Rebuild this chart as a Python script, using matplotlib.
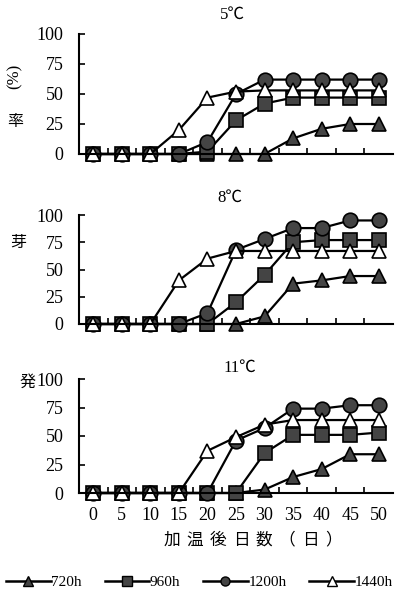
import matplotlib
matplotlib.use("Agg")
import matplotlib.pyplot as plt
from matplotlib.lines import Line2D

plt.rcParams['font.family'] = ['Liberation Serif', 'Noto Sans CJK JP']

# Days after warming
days = [0, 5, 10, 15, 20, 25, 30, 35, 40, 45, 50]
xtick_labels = [str(d) for d in days]
yticks = [0, 25, 50, 75, 100]

titles = ['5℃', '8℃', '11℃']
series_names = ['720h', '960h', '1200h', '1440h']
xlabel_chars = ['加', '温', '後', '日', '数', '（', '日', '）']

# germination rate (%) per panel, per chilling hours
g5_720 = [0, 0, 0, 0, 0, 0, 0, 13, 21, 25, 25]
g5_960 = [0, 0, 0, 0, 2, 28, 42, 47, 47, 47, 47]
g5_1200 = [0, 0, 0, 0, 10, 50, 62, 62, 62, 62, 62]
g5_1440 = [0, 0, 0, 20, 47, 52, 53, 53, 53, 53, 53]

g8_720 = [0, 0, 0, 0, 0, 0, 7, 37, 40, 44, 44]
g8_960 = [0, 0, 0, 0, 0, 20, 45, 75, 77, 77, 77]
g8_1200 = [0, 0, 0, 0, 10, 68, 78, 88, 88, 95, 95]
g8_1440 = [0, 0, 0, 40, 60, 67, 67, 67, 67, 67, 67]

g11_720 = [0, 0, 0, 0, 0, 0, 3, 14, 21, 34, 34]
g11_960 = [0, 0, 0, 0, 0, 0, 35, 51, 51, 51, 53]
g11_1200 = [0, 0, 0, 0, 0, 46, 57, 74, 74, 77, 77]
g11_1440 = [0, 0, 0, 0, 37, 49, 60, 64, 64, 64, 64]

panels = [
    [g5_720, g5_960, g5_1200, g5_1440],
    [g8_720, g8_960, g8_1200, g8_1440],
    [g11_720, g11_960, g11_1200, g11_1440],
]

styles = [
    dict(marker='^', mfc='#444444'),
    dict(marker='s', mfc='#444444'),
    dict(marker='o', mfc='#444444'),
    dict(marker='^', mfc='white'),
]

W, H = 395, 593
fig = plt.figure(figsize=(W / 100, H / 100), dpi=100)

def fy(px):
    return 1 - px / H

# (top px of y=100, bottom px of y=0)
boxes = [(34, 154), (215, 324), (379, 493)]
left_px, right_px = 79, 393
title_pos = [(232, 15), (230, 198), (240, 368)]

for i, (data, (top, bot)) in enumerate(zip(panels, boxes)):
    ax = fig.add_axes([left_px / W, fy(bot), (right_px - left_px) / W, (bot - top) / H])
    for vals, st in zip(data, styles):
        ax.plot(days, vals, color='black', lw=1.6, marker=st['marker'], mfc=st['mfc'],
                mec='black', mew=1.2, ms=10.5, clip_on=False)
    ax.set_xlim(-2.5, 52.5)
    ax.set_ylim(0, 100)
    ax.spines['top'].set_visible(False)
    ax.spines['right'].set_visible(False)
    ax.spines['left'].set_linewidth(1.5)
    ax.spines['bottom'].set_linewidth(1.5)
    ax.set_yticks(yticks)
    ax.set_yticklabels([str(t) for t in yticks], fontsize=13)
    ax.set_xticks([d + 2.5 for d in days[:-1]])
    ax.set_xticklabels([])
    ax.tick_params(axis='both', direction='in', length=4, width=1.2)
    ax.tick_params(axis='y', pad=11)
    ax.patch.set_visible(False)
    tx, ty = title_pos[i]
    fig.text(tx / W, fy(ty), titles[i], ha='center', va='center', fontsize=12)
    if i == 2:
        y_lab = -(515 - bot) * 100 / (bot - top)
        for d, lab in zip(days, xtick_labels):
            ax.text(d, y_lab, lab, ha='center', va='center', fontsize=13)

# x label, characters spread out
x0, x1 = 160, 345
step = (x1 - x0) / len(xlabel_chars)
for k, ch in enumerate(xlabel_chars):
    fig.text((x0 + step * (k + 0.5)) / W, fy(540), ch, ha='center', va='center',
             fontsize=12, family='Noto Sans CJK JP')

# y label split across panels
fig.text(28 / W, fy(383), '発', ha='center', va='center', fontsize=11.5)
fig.text(18 / W, fy(243), '芽', ha='center', va='center', fontsize=11.5)
fig.text(15 / W, fy(122), '率', ha='center', va='center', fontsize=11.5)
fig.text(15 / W, fy(76), '(%)', ha='center', va='center', fontsize=12, rotation=90)

handles = [Line2D([0], [0], color='black', lw=1.8, marker=st['marker'], mfc=st['mfc'],
                  mec='black', ms=6.5) for st in styles]
fig.legend(handles, series_names, loc='center', bbox_to_anchor=(0.505, fy(582)), ncol=4,
           frameon=False, fontsize=11, handlelength=2.9, handletextpad=0.05,
           columnspacing=1.5, borderaxespad=0, borderpad=0)

fig.savefig('out.png', dpi=100)
